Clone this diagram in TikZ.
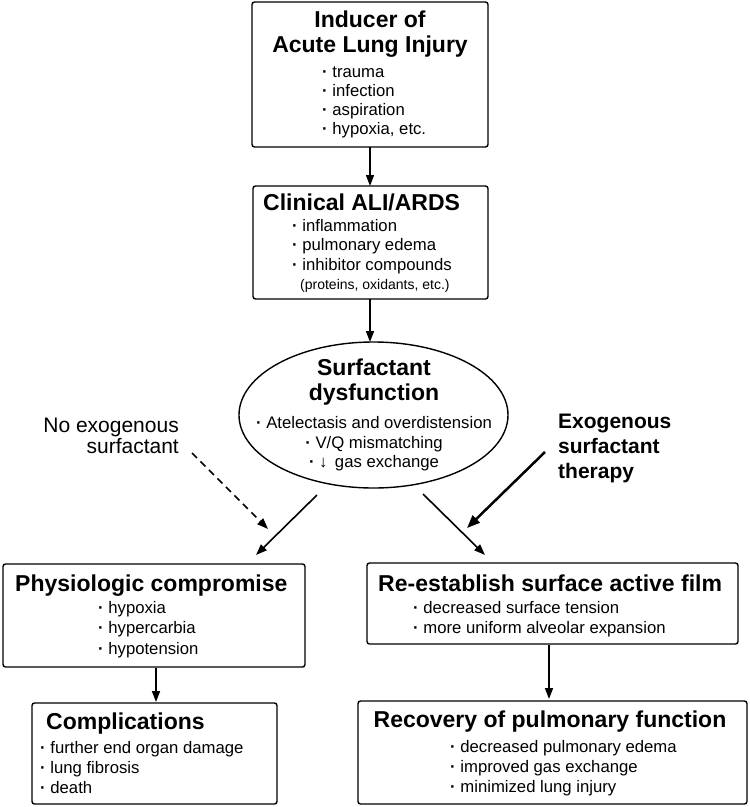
\documentclass[tikz,border=0pt]{standalone}
\usepackage{fontspec}
\setmainfont{Liberation Sans}
\usetikzlibrary{arrows.meta,shapes.geometric}
\newcommand{\bdot}{\textbf{·}}
\begin{document}
\begin{tikzpicture}[x=1pt,y=-1pt,
  box/.style={draw,line width=1.4pt,rounded corners=2.5pt,inner sep=0pt},
  ttl/.style={inner sep=0pt,font=\fontsize{23}{25}\selectfont\bfseries},
  side/.style={inner sep=0pt,font=\fontsize{21}{23}\selectfont},
  sidebf/.style={inner sep=0pt,font=\fontsize{21}{23}\selectfont\bfseries},
  itm/.style={inner sep=0pt,anchor=base west,font=\fontsize{16.7}{18}\selectfont},
  itmc/.style={inner sep=0pt,anchor=base,font=\fontsize{16.7}{18}\selectfont},
  small/.style={inner sep=0pt,anchor=base west,font=\fontsize{14}{16}\selectfont},
  arr/.style={line width=1.6pt,-{Triangle[length=11pt,width=8pt]}},
  thickarr/.style={line width=2.5pt,-{Triangle[length=13pt,width=10pt]}},
  dasharr/.style={line width=1.7pt,dash pattern=on 7pt off 5pt,-{Triangle[length=11pt,width=8pt]}}
]
\useasboundingbox (0,0) rectangle (750,807);

% boxes
\node[box,minimum width=236pt,minimum height=145pt] (b1) at (370,74.5) {};
\node[box,minimum width=235pt,minimum height=113pt] (b2) at (370.5,242.5) {};
\node[draw,line width=1.4pt,ellipse,minimum width=269pt,minimum height=146pt,inner sep=0pt] (ell) at (373.5,415) {};
\node[box,minimum width=302pt,minimum height=103pt] (b3) at (154,615.5) {};
\node[box,minimum width=371pt,minimum height=81pt] (b4) at (552.5,603.5) {};
\node[box,minimum width=245pt,minimum height=101pt] (b5) at (154.5,753.5) {};
\node[box,minimum width=389pt,minimum height=103pt] (b6) at (552.5,752.5) {};

% box 1 text
\node[ttl,anchor=base] (t1a) at (370,27) {Inducer of};
\node[ttl,anchor=base] (t1b) at (370,52) {Acute Lung Injury};
\node[itm] (i1a) at (322,77) {\bdot{} trauma};
\node[itm] (i1b) at (322,96) {\bdot{} infection};
\node[itm] (i1c) at (322,115) {\bdot{} aspiration};
\node[itm] (i1d) at (322,134) {\bdot{} hypoxia, etc.};

% box 2 text
\node[ttl,anchor=base west] (t2) at (263,210) {Clinical ALI/ARDS};
\node[itm] (i2a) at (292,231) {\bdot{} inflammation};
\node[itm] (i2b) at (292,250) {\bdot{} pulmonary edema};
\node[itm] (i2c) at (292,270) {\bdot{} inhibitor compounds};
\node[small] (i2d) at (300,289) {(proteins, oxidants, etc.)};

% ellipse text
\node[ttl,anchor=base] (t3a) at (374,375) {Surfactant};
\node[ttl,anchor=base] (t3b) at (374,400) {dysfunction};
\node[itmc] (i3a) at (374,428) {\bdot{} Atelectasis and overdistension};
\node[itmc] (i3b) at (374,448) {\bdot{} V/Q mismatching};
\node[itmc] (i3c) at (374,467) {\bdot{} ↓\, gas exchange};

% side labels
\node[side,anchor=base east] (s1a) at (179,432) {No exogenous};
\node[side,anchor=base east] (s1b) at (179,453) {surfactant};
\node[sidebf,anchor=base west] (s2a) at (558,428) {Exogenous};
\node[sidebf,anchor=base west] (s2b) at (558,453) {surfactant};
\node[sidebf,anchor=base west] (s2c) at (558,478) {therapy};

% box 3
\node[ttl,anchor=base west] (t4) at (15,591) {Physiologic compromise};
\node[itm] (i4a) at (98,613) {\bdot{} hypoxia};
\node[itm] (i4b) at (98,633) {\bdot{} hypercarbia};
\node[itm] (i4c) at (98,654) {\bdot{} hypotension};

% box 4
\node[ttl,anchor=base west] (t5) at (378,591) {Re-establish surface active film};
\node[itm] (i5a) at (413,613) {\bdot{} decreased surface tension};
\node[itm] (i5b) at (413,633) {\bdot{} more uniform alveolar expansion};

% box 5
\node[ttl,anchor=base west] (t6) at (46,729) {Complications};
\node[itm] (i6a) at (40,753) {\bdot{} further end organ damage};
\node[itm] (i6b) at (40,773) {\bdot{} lung fibrosis};
\node[itm] (i6c) at (40,793) {\bdot{} death};

% box 6
\node[ttl,anchor=base] (t7) at (550,727) {Recovery of pulmonary function};
\node[itm] (i7a) at (450,752) {\bdot{} decreased pulmonary edema};
\node[itm] (i7b) at (450,772) {\bdot{} improved gas exchange};
\node[itm] (i7c) at (450,792) {\bdot{} minimized lung injury};

% arrow endpoints
\coordinate (a1s) at (370,147);
\coordinate (a1e) at (370,186);
\coordinate (a2s) at (370,299);
\coordinate (a2e) at (370,342);
\coordinate (dls) at (192,453);
\coordinate (dle) at (268,529);
\coordinate (sls) at (317,495);
\coordinate (sle) at (256,555);
\coordinate (srs) at (423,494);
\coordinate (sre) at (485,555);
\coordinate (trs) at (545,452);
\coordinate (tre) at (467,528);
\coordinate (a3s) at (156,668);
\coordinate (a3e) at (156,702);
\coordinate (a4s) at (549,645);
\coordinate (a4e) at (549,699);

\draw[arr] (a1s) -- (a1e);
\draw[arr] (a2s) -- (a2e);
\draw[dasharr] (dls) -- (dle);
\draw[arr] (sls) -- (sle);
\draw[arr] (srs) -- (sre);
\draw[thickarr] (trs) -- (tre);
\draw[arr] (a3s) -- (a3e);
\draw[arr] (a4s) -- (a4e);
\end{tikzpicture}
\end{document}
